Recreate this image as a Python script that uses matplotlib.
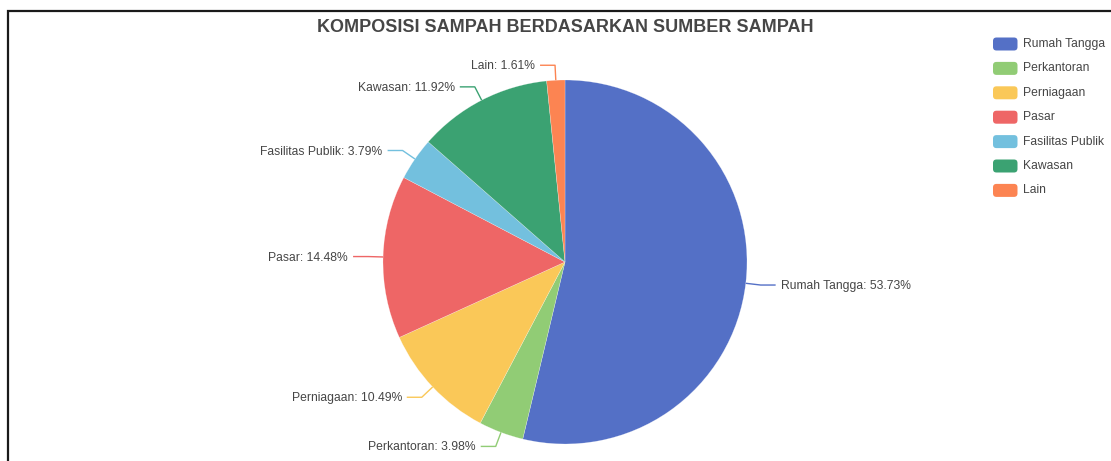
import numpy as np
import matplotlib
matplotlib.use("Agg")
import matplotlib.pyplot as plt
from matplotlib.patches import FancyBboxPatch

categories = ["Rumah Tangga", "Perkantoran", "Perniagaan", "Pasar",
              "Fasilitas Publik", "Kawasan", "Lain"]
values = [53.73, 3.98, 10.49, 14.48, 3.79, 11.92, 1.61]
colors = ["#5470c6", "#91cc75", "#fac858", "#ee6666", "#73c0de", "#3ba272", "#fc8452"]
title = "KOMPOSISI SAMPAH BERDASARKAN SUMBER SAMPAH"

W, H = 1111, 461
plt.rcParams['font.family'] = ['Liberation Sans', 'DejaVu Sans']
fig = plt.figure(figsize=(W / 100, H / 100), dpi=100)
ax = fig.add_axes([0, 0, 1, 1])

cx, cy, R = 565, 262, 182
# y axis points down (pixel coords): start at -90 (top) and go "counterclock"
# in data coords, which appears clockwise on screen
wedges, _ = ax.pie(values, colors=colors, startangle=-90, counterclock=True,
                   center=(cx, cy), radius=R, frame=True,
                   wedgeprops=dict(linewidth=0.3, edgecolor='#ffffff80'))
ax.set_xlim(0, W)
ax.set_ylim(H, 0)
ax.set_aspect('equal')
ax.axis('off')

for w, name, v, c in zip(wedges, categories, values, colors):
    a = np.deg2rad((w.theta1 + w.theta2) / 2)
    dx, dy = np.cos(a), np.sin(a)
    x0, y0 = cx + R * dx, cy + R * dy
    x1, y1 = cx + (R + 15) * dx, cy + (R + 15) * dy
    sgn = 1 if dx >= 0 else -1
    x2 = x1 + sgn * 15
    ax.plot([x0, x1, x2], [y0, y1, y1], color=c, lw=1.0, solid_capstyle='butt')
    ax.text(x2 + sgn * 5, y1 + 1, f"{name}: {v:.2f}%", ha='left' if sgn > 0 else 'right',
            va='center', fontsize=8.7, color='#464646')

ax.text(565, 27, title, ha='center', va='center', fontsize=13.0,
        fontweight='bold', color='#464646')

# legend
ly0, dly = 44, 24.4
for i, (name, c) in enumerate(zip(categories, colors)):
    y = ly0 + i * dly
    box = FancyBboxPatch((993, y - 6.5), 24.5, 13,
                         boxstyle="round,pad=0,rounding_size=3.5",
                         facecolor=c, edgecolor='none')
    ax.add_patch(box)
    ax.text(1023, y, name, ha='left', va='center', fontsize=8.7, color='#464646')

# frame border
ax.plot([8, 8, W + 5], [H + 5, 11, 11], color='#1a1a1a', lw=1.6,
        solid_joinstyle='miter', clip_on=False)

fig.savefig("out.png", dpi=100)
